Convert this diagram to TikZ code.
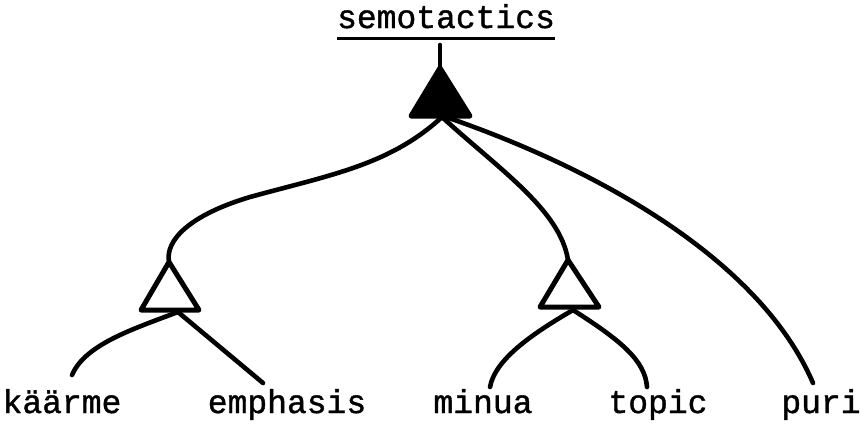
\documentclass[tikz,border=0pt]{standalone}
\usepackage{fontspec}
\setmonofont[FakeBold=1.2]{Liberation Mono}
\begin{document}
\begin{tikzpicture}[x=1pt,y=-1pt,
  lbl/.style={font=\ttfamily\fontsize{33}{33}\selectfont, inner sep=0pt, anchor=base},
  edge/.style={line width=4.6pt, line cap=round},
  tri/.style={line width=5pt, line join=round}]
\useasboundingbox (0,0) rectangle (864,426);
% labels
\node[lbl] (sem) at (446,28) {semotactics};
\node[lbl] (kaa) at (62,413) {käärme};
\node[lbl] (emp) at (287,413) {emphasis};
\node[lbl] (min) at (483,413) {minua};
\node[lbl] (top) at (658,413) {topic};
\node[lbl] (pur) at (821,413) {puri};
% underline
\draw[line width=3pt] ([yshift=-10pt]sem.base west) -- ([yshift=-10pt]sem.base east);
% triangle coordinates
\coordinate (t0top) at (440,45);
\coordinate (t0a) at (440,68);
\coordinate (t0b) at (442,117);
\coordinate (t1a) at (169,262);
\coordinate (t1b) at (178,312);
\coordinate (t2a) at (568,260);
\coordinate (t2b) at (573,310);
\coordinate (kaaT) at (72,375);
\coordinate (empT) at (263,383);
\coordinate (minT) at (490,387);
\coordinate (topT) at (647,387);
\coordinate (purT) at (813,383);
% top stem
\draw[edge] (t0top) -- (t0a);
% black triangle
\fill[draw=black, tri] (t0a) -- (411,116) -- (470,116) -- cycle;
% white triangles
\draw[tri] (t1a) -- (141,310) -- (199,310) -- cycle;
\draw[tri] (t2a) -- (540,307) -- (599,307) -- cycle;
% connectors from top triangle
\draw[edge] (t0b) .. controls (390,165) and (330,175) .. (250,197)
   .. controls (190,215) and (165,240) .. (t1a);
\draw[edge] (t0b) .. controls (500,170) and (560,210) .. (t2a);
\draw[edge] (446,117) .. controls (600,170) and (760,260) .. (purT);
% connectors from left triangle
\draw[edge] (t1b) .. controls (130,330) and (85,345) .. (kaaT);
\draw[edge] (t1b) -- (empT);
% connectors from right triangle
\draw[edge] (t2b) .. controls (530,335) and (495,360) .. (minT);
\draw[edge] (t2b) .. controls (620,340) and (645,360) .. (topT);
\end{tikzpicture}
\end{document}
